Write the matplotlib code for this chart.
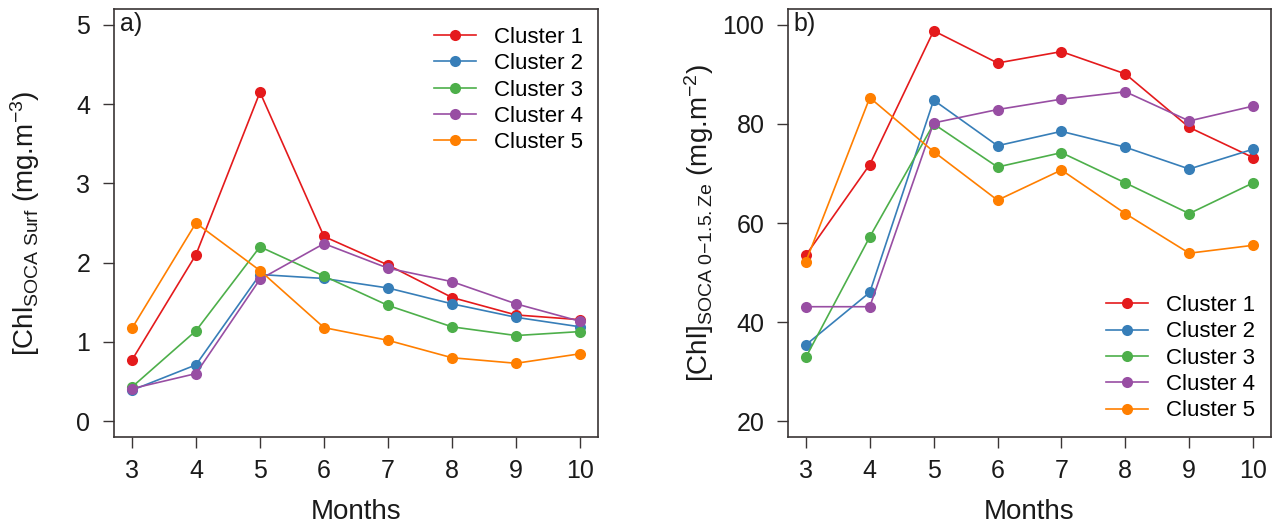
import matplotlib
matplotlib.use("Agg")
import matplotlib.pyplot as plt

plt.rcParams['font.family'] = ['Liberation Sans', 'DejaVu Sans']
plt.rcParams['mathtext.fontset'] = 'custom'
plt.rcParams['mathtext.rm'] = 'Liberation Sans'
plt.rcParams['mathtext.it'] = 'Liberation Sans'
plt.rcParams['mathtext.default'] = 'regular'

months = [3, 4, 5, 6, 7, 8, 9, 10]
labels = ["Cluster 1", "Cluster 2", "Cluster 3", "Cluster 4", "Cluster 5"]
colors = ["#E41A1C", "#377EB8", "#4DAF4A", "#984EA3", "#FF7F00"]

# Panel a: surface chlorophyll (mg m-3)
surf_c1 = [0.77, 2.10, 4.15, 2.33, 1.97, 1.56, 1.34, 1.28]
surf_c2 = [0.39, 0.71, 1.85, 1.80, 1.68, 1.48, 1.31, 1.19]
surf_c3 = [0.43, 1.14, 2.20, 1.83, 1.46, 1.19, 1.08, 1.13]
surf_c4 = [0.41, 0.60, 1.79, 2.24, 1.93, 1.76, 1.48, 1.26]
surf_c5 = [1.17, 2.50, 1.90, 1.18, 1.02, 0.80, 0.73, 0.85]

# Panel b: integrated chlorophyll 0-1.5 Ze (mg m-2)
int_c1 = [53.5, 71.8, 98.8, 92.3, 94.6, 90.1, 79.3, 73.2]
int_c2 = [35.4, 46.0, 84.8, 75.6, 78.5, 75.3, 70.9, 74.9]
int_c3 = [32.9, 57.2, 80.0, 71.3, 74.2, 68.1, 61.9, 68.1]
int_c4 = [43.1, 43.1, 80.2, 82.9, 85.0, 86.5, 80.6, 83.6]
int_c5 = [52.2, 85.3, 74.4, 64.6, 70.7, 61.9, 53.9, 55.5]

surf = [surf_c1, surf_c2, surf_c3, surf_c4, surf_c5]
integ = [int_c1, int_c2, int_c3, int_c4, int_c5]

W, H = 1276, 528
fig = plt.figure(figsize=(W / 100, H / 100), dpi=100)

def px_axes(l, r, t, b):
    return fig.add_axes([l / W, 1 - b / H, (r - l) / W, (b - t) / H])

axa = px_axes(114, 598, 9, 437)
axb = px_axes(788, 1271, 9, 437)

spine_col = "#3a3535"
txt_col = "#1a1a1a"

def style(ax, yticks, ylim):
    ax.set_xlim(2.72, 10.28)
    ax.set_ylim(*ylim)
    ax.set_xticks(months)
    ax.set_yticks(yticks)
    for s in ax.spines.values():
        s.set_color(spine_col)
        s.set_linewidth(1.2)
    ax.tick_params(direction='out', length=8, width=1.0, color=spine_col,
                   labelsize=18, labelcolor=txt_col)
    ax.tick_params(axis='y', pad=9)
    ax.tick_params(axis='x', pad=8)
    ax.set_xlabel("Months", fontsize=20, color=txt_col)
    ax.xaxis.set_label_coords(0.5, -0.175)
    ax.xaxis.label.set_va('center')

for ax, data in ((axa, surf), (axb, integ)):
    for vals, lab, col in zip(data, labels, colors):
        ax.plot(months, vals, '-o', color=col, lw=1.2, ms=8, label=lab,
                markeredgewidth=0)

style(axa, [0, 1, 2, 3, 4, 5], (-0.2, 5.2))
style(axb, [20, 40, 60, 80, 100], (16.8, 103.2))

axa.set_ylabel(r"[Chl$_{\mathrm{SOCA\ Surf}}$ (mg.m$^{-3}$)", fontsize=20,
               color=txt_col, va='center')
axb.set_ylabel(r"[Chl]$_{\mathrm{SOCA\ 0{-}1.5.Ze}}$ (mg.m$^{-2}$)", fontsize=20,
               color=txt_col, va='center')
axa.yaxis.set_label_coords(-0.184, 0.5)
axb.yaxis.set_label_coords(-0.184, 0.5)

axa.text(0.012, 0.992, "a)", transform=axa.transAxes, ha='left', va='top',
         fontsize=18, color=txt_col)
axb.text(0.012, 0.992, "b)", transform=axb.transAxes, ha='left', va='top',
         fontsize=18, color=txt_col)

leg_kw = dict(frameon=False, fontsize=16, handlelength=1.9, handletextpad=0.8,
              labelspacing=0.24)
axa.legend(loc='upper right', bbox_to_anchor=(1.01, 1.005), **leg_kw)
axb.legend(loc='lower right', bbox_to_anchor=(1.008, -0.01), **leg_kw)

fig.savefig("out.png", dpi=100)
